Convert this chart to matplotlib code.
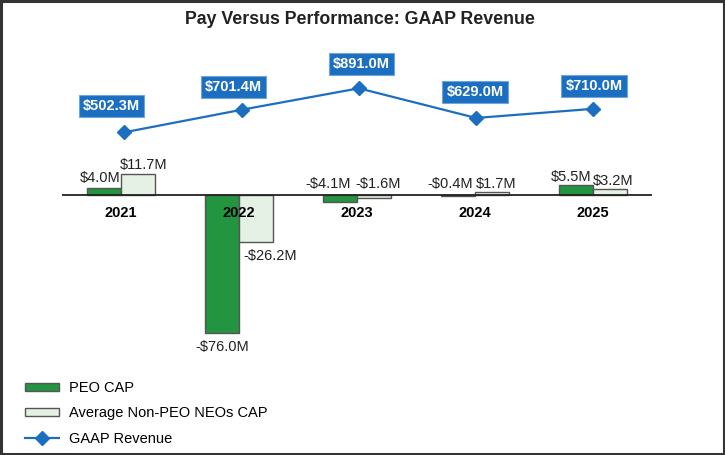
import numpy as np
import matplotlib.pyplot as plt
from matplotlib.patches import Rectangle, Patch
from matplotlib.lines import Line2D

plt.rcParams['font.family'] = ['Liberation Sans', 'DejaVu Sans']

years = ['2021', '2022', '2023', '2024', '2025']
peo_cap = [4.0, -76.0, -4.1, -0.4, 5.5]
neo_cap = [11.7, -26.2, -1.6, 1.7, 3.2]
revenue = [502.3, 701.4, 891.0, 629.0, 710.0]

peo_labels = ['$4.0M', '-$76.0M', '-$4.1M', '-$0.4M', '$5.5M']
neo_labels = ['$11.7M', '-$26.2M', '-$1.6M', '$1.7M', '$3.2M']
rev_labels = ['$502.3M', '$701.4M', '$891.0M', '$629.0M', '$710.0M']

# label offsets in pixels (dx, dy of text baseline)
peo_off = [(-4.3, 6), (0.5, -18), (-12, 7), (-8.3, 7), (-5, 4)]
neo_off = [(6, 4.5), (14, -17.3), (4, 7), (4, 4), (3, 4)]
rev_off = [(-13, 26), (-8, 23), (2.5, 24), (-1, 25.7), (0.7, 23)]

green = '#239440'
light = '#e4f1e4'
blue = '#1c6fc0'

fig = plt.figure(figsize=(7.25, 4.55), dpi=100)
rect = [62/725, 1-345/455, 590/725, 285/455]
ax = fig.add_axes(rect)
ax2 = fig.add_axes(rect)
ax2.patch.set_visible(False)

x = np.arange(len(years))
w = 0.288
ax.bar(x - w/2, peo_cap, w, color=green, edgecolor='#555555', linewidth=1, zorder=2)
ax.bar(x + w/2, neo_cap, w, color=light, edgecolor='#555555', linewidth=1, zorder=2)
ax.axhline(0, color='#222222', linewidth=1.3, zorder=3)

ax.set_xlim(-0.5, 4.5)
ax.set_ylim(-82.9, 74.6)
ax2.set_xlim(-0.531, 4.5)
ax2.set_ylim(-1376, 1141)

for i in range(len(years)):
    ax.annotate(years[i], (x[i], 0), xytext=(0, -11), textcoords='offset pixels',
                ha='center', va='top', fontsize=10.5, fontweight='bold', zorder=5)
    yp = peo_cap[i] if peo_cap[i] > 0 or i == 1 else 0
    ax.annotate(peo_labels[i], (x[i] - w/2, yp), xytext=peo_off[i],
                textcoords='offset pixels', ha='center', va='baseline', fontsize=10.5,
                color='#222222', zorder=5)
    yn = neo_cap[i] if neo_cap[i] > 0 or i == 1 else 0
    ax.annotate(neo_labels[i], (x[i] + w/2, yn), xytext=neo_off[i],
                textcoords='offset pixels', ha='center', va='baseline', fontsize=10.5,
                color='#222222', zorder=5)

ax2.plot(x, revenue, color=blue, linewidth=1.6, marker='D', markersize=7.2, zorder=4)
for i in range(len(years)):
    ax2.annotate(rev_labels[i], (x[i], revenue[i]), xytext=rev_off[i],
                 textcoords='offset pixels', ha='center', va='center', fontsize=10.5,
                 fontweight='bold', color='white',
                 bbox=dict(boxstyle='square,pad=0.28', fc=blue, ec='#6fa6dc', lw=0.8))

for a in (ax, ax2):
    for s in a.spines.values():
        s.set_visible(False)
    a.set_xticks([])
    a.set_yticks([])

fig.text(0.497, 1 - 20/455, 'Pay Versus Performance: GAAP Revenue', ha='center', va='center',
         fontsize=12.8, fontweight='bold', color='#222222')

handles = [Patch(facecolor=green, edgecolor='#555555'),
           Patch(facecolor=light, edgecolor='#555555'),
           Line2D([], [], color=blue, linewidth=1.6, marker='D', markersize=7.2)]
fig.legend(handles, ['PEO CAP', 'Average Non-PEO NEOs CAP', 'GAAP Revenue'],
           loc='upper left', bbox_to_anchor=(25/725, 1 - 381/455), frameon=False,
           fontsize=10.5, handlelength=2.3, handleheight=0.5, handletextpad=0.72,
           labelspacing=0.78, borderpad=0, borderaxespad=0)

fig.patches.append(Rectangle((0.0015, 0.0025), 0.997, 0.995, transform=fig.transFigure,
                             fill=False, edgecolor='#333333', linewidth=2.2))

fig.savefig('out.png', dpi=100)
